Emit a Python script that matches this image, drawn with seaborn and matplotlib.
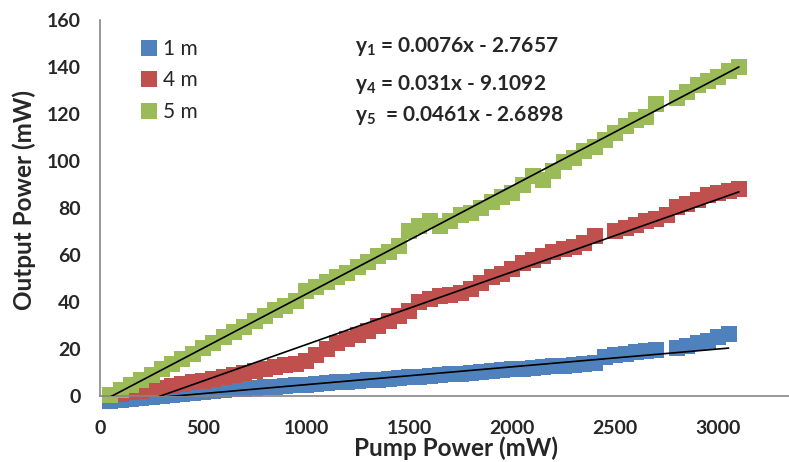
import numpy as np
import pandas as pd
import matplotlib
matplotlib.use("Agg")
import matplotlib.pyplot as plt
import seaborn as sns
from matplotlib.lines import Line2D

nan = np.nan

pump_mw = [50, 100, 150, 200, 250, 300, 350, 400, 450, 500,
           550, 600, 650, 700, 750, 800, 850, 900, 950, 1000,
           1050, 1100, 1150, 1200, 1250, 1300, 1350, 1400, 1450, 1500,
           1550, 1600, 1650, 1700, 1750, 1800, 1850, 1900, 1950, 2000,
           2050, 2100, 2150, 2200, 2250, 2300, 2350, 2400, 2450, 2500,
           2550, 2600, 2650, 2700, 2750, 2800, 2850, 2900, 2950, 3000,
           3050, 3100]

out_1m = [-2.0, -1.6, -1.2, -0.8, -0.4, 0.0, 0.4, 0.8, 1.2, 1.6,
          2.0, 2.4, 2.8, 3.1, 3.4, 3.7, 4.0, 4.3, 4.6, 4.9,
          5.2, 5.5, 5.8, 6.1, 6.4, 6.7, 7.0, 7.3, 7.6, 8.0,
          8.3, 8.6, 8.9, 9.2, 9.5, 9.8, 10.2, 10.6, 11.0, 11.4,
          11.7, 12.0, 12.3, 12.6, 12.9, 13.2, 13.6, 14.2, 16.8, 17.6,
          18.1, 18.6, 19.0, 19.4, nan, 20.3, 21.2, 22.6, 23.6, 25.0,
          26.3, nan]

out_4m = [0.3, 0.9, 1.6, 2.3, 3.0, 3.6, 4.3, 5.0, 5.8, 6.6,
          7.3, 8.2, 9.0, 9.8, 10.8, 11.6, 12.3, 13.0, 13.8, 15.0,
          17.4, 20.0, 22.5, 24.2, 26.0, 27.6, 30.0, 32.0, 34.0, 36.3,
          40.0, 41.5, 42.5, 43.2, 43.8, 45.5, 48.0, 50.5, 52.0, 54.0,
          56.5, 58.0, 59.5, 61.5, 62.5, 63.5, 65.3, 68.0, nan, 70.3,
          71.5, 72.8, 74.5, 75.5, 77.3, 80.5, 82.0, 83.5, 85.5, 86.6,
          87.5, 88.3]

out_5m = [0.5, 2.5, 4.5, 6.8, 9.0, 11.5, 13.5, 15.8, 18.0, 20.5,
          22.5, 25.0, 27.3, 29.5, 32.0, 34.0, 36.5, 38.5, 40.5, 44.8,
          46.5, 48.5, 50.5, 52.5, 55.0, 57.0, 59.5, 61.5, 64.0, 70.2,
          72.6, 74.7, 72.6, 74.7, 77.3, 78.1, 80.0, 82.8, 85.0, 86.6,
          90.0, 93.8, 92.2, 96.0, 99.8, 101.5, 104.5, 106.2, 109.0, 112.0,
          115.1, 117.5, 119.0, 124.4, nan, 127.1, 129.6, 132.5, 134.3, 136.0,
          138.5, 140.2]

series_labels = ["1 m", "4 m", "5 m"]
series_colors = ["#4F81BD", "#C0504D", "#9BBB59"]
slopes = [0.0076, 0.031, 0.0461]
intercepts = [-2.7657, -9.1092, -2.6898]
equations = [r"$\mathbf{y_1}$ = 0.0076x - 2.7657",
             r"$\mathbf{y_4}$ = 0.031x - 9.1092",
             r"$\mathbf{y_5}$  = 0.0461x - 2.6898"]

xticks = [0, 500, 1000, 1500, 2000, 2500, 3000]
yticks = [0, 20, 40, 60, 80, 100, 120, 140, 160]

sns.set_style("white")
plt.rcParams["font.family"] = ["Lato", "DejaVu Sans"]
plt.rcParams["mathtext.fontset"] = "custom"
plt.rcParams["mathtext.bf"] = "Lato:bold"
plt.rcParams["mathtext.rm"] = "Lato"
plt.rcParams["mathtext.it"] = "Lato:italic"

W, H = 789, 462
fig = plt.figure(figsize=(W / 100, H / 100), dpi=100)
ax = fig.add_axes([100 / W, 66 / H, (W - 100) / W, (396 - 20.5) / H])

frames = []
for lab, vals in zip(series_labels, [out_1m, out_4m, out_5m]):
    frames.append(pd.DataFrame({"pump": pump_mw, "out": vals, "fiber": lab}))
df = pd.concat(frames, ignore_index=True).dropna()

for lab, col in zip(series_labels, series_colors):
    sub = df[df["fiber"] == lab]
    sns.scatterplot(data=sub, x="pump", y="out", ax=ax, marker="s", s=125,
                    color=col, linewidth=0, clip_on=False, legend=False, zorder=2)

for lab, m, b in zip(series_labels, slopes, intercepts):
    sub = df[df["fiber"] == lab]
    xs = np.array([sub["pump"].min(), sub["pump"].max()])
    ax.plot(xs, m * xs + b, color="black", lw=1.2, zorder=3)

ax.set_xlim(0, (W - 100) / 0.2061)
ax.set_ylim(0, 160)
ax.set_xticks(xticks)
ax.set_yticks(yticks)
ax.set_xticklabels([str(t) for t in xticks], fontsize=14, fontweight="bold")
ax.set_yticklabels([str(t) for t in yticks], fontsize=14, fontweight="bold")
ax.tick_params(axis="both", direction="out", length=5, width=1, color="#868686")
ax.tick_params(axis="x", pad=12)
ax.tick_params(axis="y", pad=9)
for s in ["top", "right"]:
    ax.spines[s].set_visible(False)
for s in ["left", "bottom"]:
    ax.spines[s].set_color("#868686")
    ax.spines[s].set_linewidth(1.2)

ax.set_xlabel("Pump Power (mW)", fontsize=17.5, fontweight="bold", va="center")
ax.set_ylabel("Output Power (mW)", fontsize=17.5, fontweight="bold", va="center")
ax.xaxis.set_label_coords((456 - 100) / (W - 100), (396 - 448) / 375.2)
ax.yaxis.set_label_coords((24 - 100) / (W - 100), (396 - 200) / 375.2)

handles = [Line2D([], [], marker="s", linestyle="none", markersize=11,
                  markerfacecolor=c, markeredgewidth=0) for c in series_colors]
ax.legend(handles, series_labels, loc="upper left",
          bbox_to_anchor=(141 / W, 1 - 39 / H), bbox_transform=fig.transFigure,
          frameon=False, fontsize=15, handlelength=0.75, handletextpad=0.3,
          labelspacing=0.55, borderpad=0, borderaxespad=0)

for eq, yc in zip(equations, [46, 84, 115]):
    fig.text(355 / W, 1 - yc / H, eq, fontsize=15, fontweight="bold",
             ha="left", va="center")

fig.savefig("out.png", dpi=100)
